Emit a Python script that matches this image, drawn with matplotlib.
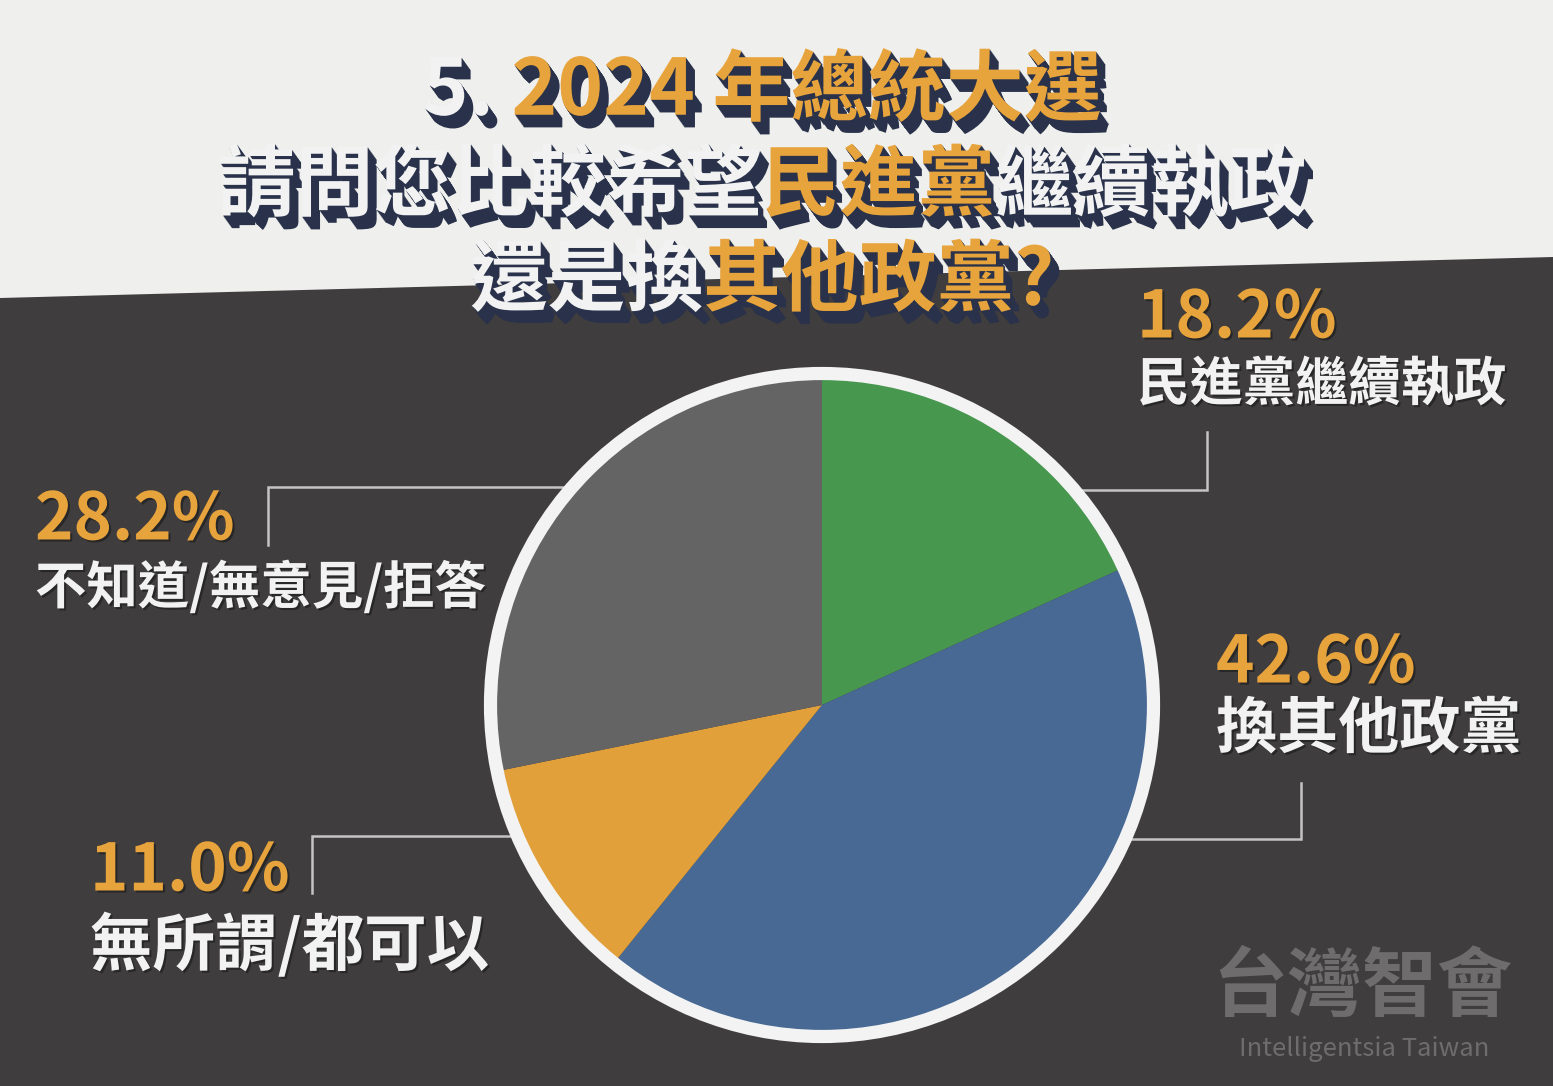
import matplotlib
matplotlib.use('Agg')
import matplotlib.pyplot as plt
import matplotlib.patheffects as pe
from matplotlib.patches import Polygon, Circle

# data
labels = ['民進黨繼續執政', '換其他政黨', '無所謂/都可以', '不知道/無意見/拒答']
values = [18.2, 42.6, 11.0, 28.2]
colors = ['#47974f', '#476994', '#e1a03a', '#646464']

title_lines = [
    [('5. ', 'w'), ('2024 年總統大選', 'o')],
    [('請問您比較希望', 'w'), ('民進黨', 'o'), ('繼續執政', 'w')],
    [('還是換', 'w'), ('其他政黨?', 'o')],
]

W, H = 1553, 1086
DARK = '#403d3e'
LIGHT = '#efefed'
ORANGE = '#e8a43c'
WHITE = '#f2f2f2'
NAVY = '#29324a'
CJK = ['Noto Sans CJK TC', 'DejaVu Sans']

fig = plt.figure(figsize=(W / 100, H / 100), dpi=100)
fig.patch.set_facecolor(DARK)
bg = fig.add_axes([0, 0, 1, 1])
bg.set_xlim(0, W)
bg.set_ylim(H, 0)
bg.axis('off')
bg.add_patch(Polygon([(0, 0), (W, 0), (W, 257), (0, 298)], color=LIGHT, lw=0))

# title with a fake 3d extrusion
extrude = [pe.SimplePatchShadow(offset=(k * 0.5, -k * 0.7), shadow_rgbFace=NAVY, alpha=1)
           for k in range(1, 14)] + [pe.Normal()]
renderer = fig.canvas.get_renderer()
line_y = [92, 187, 282]
for pieces, y in zip(title_lines, line_y):
    texts = []
    for s, c in pieces:
        t = bg.text(0, y, s, color=ORANGE if c == 'o' else WHITE, fontsize=56,
                    fontweight='bold', family=CJK, va='center', ha='left',
                    path_effects=extrude)
        texts.append(t)
    widths = [t.get_window_extent(renderer).width for t in texts]
    x = 762 - sum(widths) / 2
    for t, w in zip(texts, widths):
        t.set_x(x)
        x += w

# leader lines
line_kw = dict(color='#c4c4c4', lw=1.8, solid_joinstyle='miter')
bg.plot([900, 1207, 1207], [490, 490, 432], **line_kw)
bg.plot([700, 268, 268], [487, 487, 545], **line_kw)
bg.plot([900, 1301, 1301], [839, 839, 783], **line_kw)
bg.plot([700, 312, 312], [836, 836, 893], **line_kw)

# pie
cx, cy = 822, 705
pax = fig.add_axes([(cx - 360) / W, (H - cy - 360) / H, 720 / W, 720 / H])
pax.pie(values, colors=colors, startangle=90, counterclock=False, radius=326,
        wedgeprops=dict(linewidth=0))
pax.add_patch(Circle((0, 0), 331.5, fill=False, ec='#f3f3f3', lw=9.5))
pax.set_xlim(-360, 360)
pax.set_ylim(-360, 360)
pax.set_aspect('equal')
pax.axis('off')

# slice labels
shadow = [pe.SimplePatchShadow(offset=(1.5, -1.5), shadow_rgbFace='#1e1e1e', alpha=0.7), pe.Normal()]
label_pos = [(1137, 318, 385, 38), (1216, 663, 730, 44),
             (90, 871, 946, 45), (35, 520, 588, 37)]
for lab, v, (x, yp, yl, fs) in zip(labels, values, label_pos):
    bg.text(x, yp, f'{v:.1f}%', color=ORANGE, fontsize=47, fontweight='bold',
            family=CJK, va='center', ha='left', path_effects=shadow)
    bg.text(x, yl, lab, color=WHITE, fontsize=fs, fontweight='bold',
            family=CJK, va='center', ha='left', path_effects=shadow)

# watermark
bg.text(1362, 988, '台灣智會', color='#6e6c6d', fontsize=54, fontweight='bold',
        family=CJK, va='center', ha='center')
bg.text(1364, 1049, 'Intelligentsia Taiwan', color='#6e6c6d', fontsize=18.5,
        family=CJK, va='center', ha='center')

fig.savefig('out.png', dpi=100, facecolor=DARK)
